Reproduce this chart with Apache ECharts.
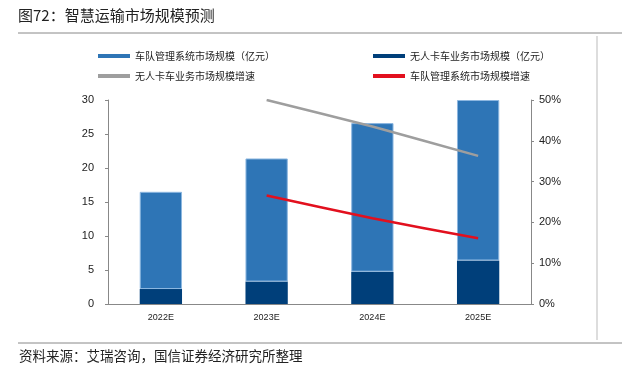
<!DOCTYPE html>
<html><head><meta charset="utf-8">
<script src="https://cdn.jsdelivr.net/npm/echarts@6/dist/echarts.min.js"></script>
<style>html,body{margin:0;padding:0;background:#fff}#c{width:625px;height:373px}</style>
</head><body><div id="c"></div>
<script>
const categories = ['2022E','2023E','2024E','2025E'];
const fleetMgmt = [14.3, 18.1, 21.85, 23.6];      // stacked upper part (亿元)
const autoTruck = [2.2, 3.3, 4.75, 6.4];         // 无人卡车业务市场规模
const truckGrowth = [null, 50.0, 43.5, 36.3];    // %
const fleetGrowth = [null, 26.6, 21.0, 16.1];    // %
const leftTicks = [0, 5, 10, 15, 20, 25, 30];
const rightTicks = [0, 10, 20, 30, 40, 50];

const FONT = '"Noto Sans CJK SC", "Liberation Sans", sans-serif';
const chart = echarts.init(document.getElementById('c'), null, {renderer: 'canvas'});
const names = ['车队管理系统市场规模（亿元）','无人卡车业务市场规模（亿元）','无人卡车业务市场规模增速','车队管理系统市场规模增速'];
const legendPos = [[93,46],[368,46],[93,66],[368,66]];
const legendColors = ['#2E75B6','#003F7A','#9E9E9E','#E2101E'];
chart.setOption({
  animation: false,
  textStyle: {fontFamily: FONT},
  graphic: [
    {type:'text', left:18, top:8, style:{text:'图72：智慧运输市场规模预测', font:'15px '+FONT, fill:'#222'}},
    {type:'line', shape:{x1:18,y1:33,x2:622,y2:33}, style:{stroke:'#888', lineWidth:1}},
    {type:'line', shape:{x1:597,y1:36,x2:597,y2:340}, style:{stroke:'#bbb', lineWidth:1}},
    {type:'line', shape:{x1:18,y1:343,x2:622,y2:343}, style:{stroke:'#888', lineWidth:1}},
    {type:'text', left:19, top:349, style:{text:'资料来源：艾瑞咨询，国信证券经济研究所整理', font:'13.5px '+FONT, fill:'#222'}}
  ],
  legend: names.map((n,i)=>({
    data:[{name:n, icon:'rect', itemStyle:{borderWidth:0}}], left: legendPos[i][0], top: legendPos[i][1],
    itemWidth:32, itemHeight:4, itemGap:4,
    textStyle:{fontSize:10, color:'#222', fontFamily:FONT}, selectedMode:false
  })),
  grid: {left:108, right:94, top:100, bottom:69},
  xAxis: {
    type:'category', data:categories,
    axisLine:{lineStyle:{color:'#888'}},
    axisTick:{inside:true, length:3, lineStyle:{color:'#888'}},
    axisLabel:{fontSize:9, color:'#222', margin:9, fontFamily:'"Liberation Sans", Arial, sans-serif'}
  },
  yAxis: [
    {type:'value', min:0, max:30, interval:5,
     axisLine:{show:true, lineStyle:{color:'#888'}},
     axisTick:{show:true, length:3, lineStyle:{color:'#888'}},
     splitLine:{show:false},
     axisLabel:{fontSize:11, color:'#222', margin:14, fontFamily:'"Liberation Sans", Arial, sans-serif'}},
    {type:'value', min:0, max:50, interval:10, position:'right',
     axisLine:{show:true, lineStyle:{color:'#888'}},
     axisTick:{show:true, length:3, lineStyle:{color:'#888'}},
     splitLine:{show:false},
     axisLabel:{fontSize:11, color:'#222', margin:8, formatter:'{value}%', fontFamily:'"Liberation Sans", Arial, sans-serif'}}
  ],
  series: [
    {name:names[1], type:'bar', stack:'s', data:autoTruck, barWidth:'40%',
     itemStyle:{color:legendColors[1]}},
    {name:names[0], type:'bar', stack:'s', data:fleetMgmt, barWidth:'40%',
     itemStyle:{color:legendColors[0], borderColor:'#8db7e0', borderWidth:1}},
    {name:names[2], type:'line', yAxisIndex:1, data:truckGrowth, smooth:0.2, symbol:'none',
     lineStyle:{color:legendColors[2], width:2.5}, itemStyle:{color:legendColors[2]}},
    {name:names[3], type:'line', yAxisIndex:1, data:fleetGrowth, smooth:0.2, symbol:'none',
     lineStyle:{color:legendColors[3], width:2.5}, itemStyle:{color:legendColors[3]}}
  ]
});
</script></body></html>
